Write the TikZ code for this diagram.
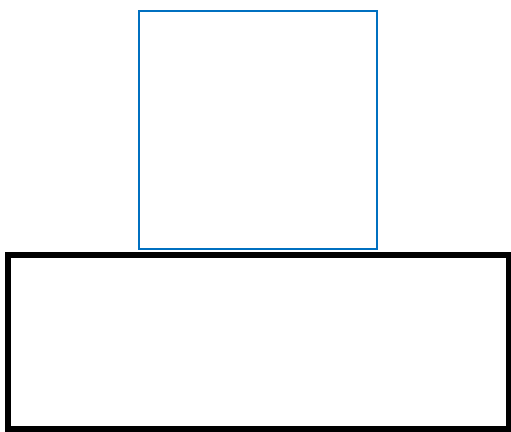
\documentclass[tikz,border=0pt]{standalone}
\definecolor{boxblue}{RGB}{0,112,192}
\tikzset{
  upperbox/.style={draw=boxblue, line width=2pt},
  lowerbox/.style={draw=black, line width=6pt}
}
\begin{document}
\begin{tikzpicture}[x=1pt,y=-1pt]
\useasboundingbox (0,0) rectangle (511,431);
\draw[upperbox] (139,11) rectangle (377,249);
\draw[lowerbox] (7.5,254.5) rectangle (508.5,428.5);
\end{tikzpicture}
\end{document}
